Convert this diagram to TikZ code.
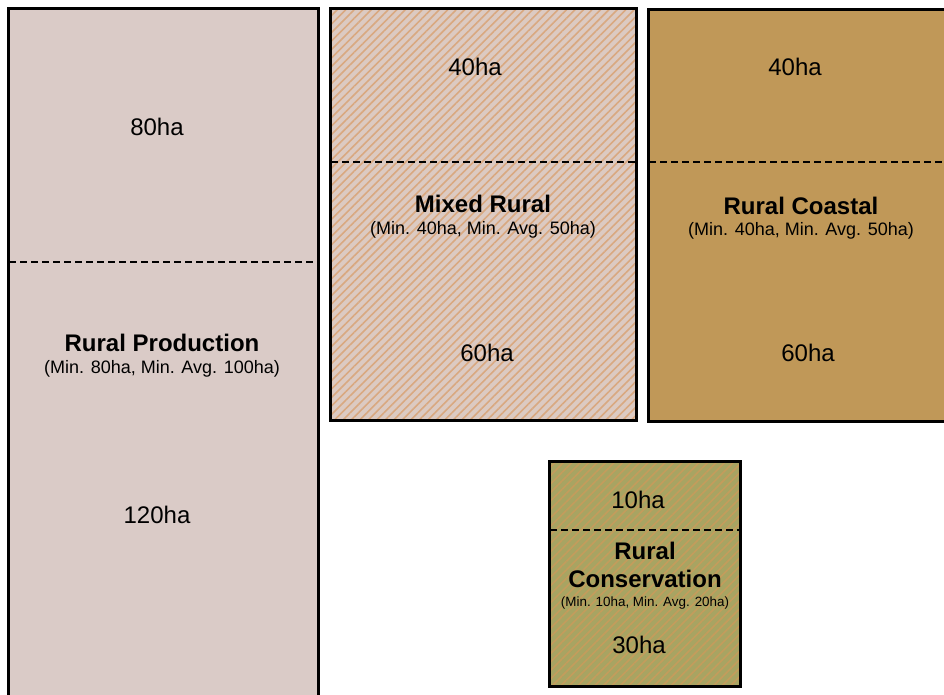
\documentclass[tikz,border=0pt]{standalone}
\usepackage{fontspec}
\setmainfont{Liberation Sans}
\usetikzlibrary{patterns.meta}
\definecolor{prodfill}{HTML}{DACBC7}
\definecolor{mixfill}{HTML}{DCCAC2}
\definecolor{mixline}{HTML}{D9A880}
\definecolor{coastfill}{HTML}{C09858}
\definecolor{consfill}{HTML}{A8A462}
\definecolor{consline}{HTML}{C49C5C}

\begin{document}
\begin{tikzpicture}[x=1pt, y=-1pt,
  zone/.style={draw=black, line width=3pt},
  split/.style={draw=black, line width=1.4pt, dash pattern=on 7pt off 4pt},
  area/.style={font=\fontsize{24}{28}\selectfont},
  title/.style={font=\fontsize{24}{28}\selectfont\bfseries},
  rule/.style={font=\fontsize{18}{21}\selectfont},
  smallrule/.style={font=\fontsize{13.4}{16}\selectfont}]
  \useasboundingbox (0,0) rectangle (944,695);
  \clip (0,0) rectangle (944,695);
  % Rural Production
  \path[zone, fill=prodfill] (8,9) rectangle (318,710);
  \draw[split] (9,262) -- (317,262);
  \node[area] (prodtop) at (157,127) {80ha};
  \node[title] (prodtitle) at (162,343) {Rural Production};
  \node[rule] (prodrule) at (162,369) {(Min. 80ha, Min. Avg. 100ha)};
  \node[area] (prodbot) at (157,515) {120ha};
  % Mixed Rural
  \fill[mixfill] (330,9) rectangle (636,420);
  \fill[pattern={Lines[angle=45, distance=6pt, line width=1.6pt]}, pattern color=mixline] (330,9) rectangle (636,420);
  \draw[zone] (330,9) rectangle (636,420);
  \draw[split] (331,162) -- (635,162);
  \node[area] (mixtop) at (475,67) {40ha};
  \node[title] (mixtitle) at (483,204) {Mixed Rural};
  \node[rule] (mixrule) at (483,230) {(Min. 40ha, Min. Avg. 50ha)};
  \node[area] (mixbot) at (487,353) {60ha};
  % Rural Coastal
  \path[zone, fill=coastfill] (648,10) rectangle (960,421);
  \draw[split] (649,162) -- (944,162);
  \node[area] (coasttop) at (795,67) {40ha};
  \node[title] (coasttitle) at (801,206) {Rural Coastal};
  \node[rule] (coastrule) at (801,231) {(Min. 40ha, Min. Avg. 50ha)};
  \node[area] (coastbot) at (808,353) {60ha};
  % Rural Conservation
  \fill[consfill] (549,461) rectangle (740,686);
  \fill[pattern={Lines[angle=45, distance=6pt, line width=1.6pt]}, pattern color=consline] (549,461) rectangle (740,686);
  \draw[zone] (549,461) rectangle (740,686);
  \draw[split] (550,530) -- (739,530);
  \node[area] (constop) at (638,500) {10ha};
  \node[title, align=center] (constitle) at (645,565) {Rural\\Conservation};
  \node[smallrule] (consrule) at (645,603) {(Min. 10ha, Min. Avg. 20ha)};
  \node[area] (consbot) at (639,645) {30ha};
\end{tikzpicture}
\end{document}
